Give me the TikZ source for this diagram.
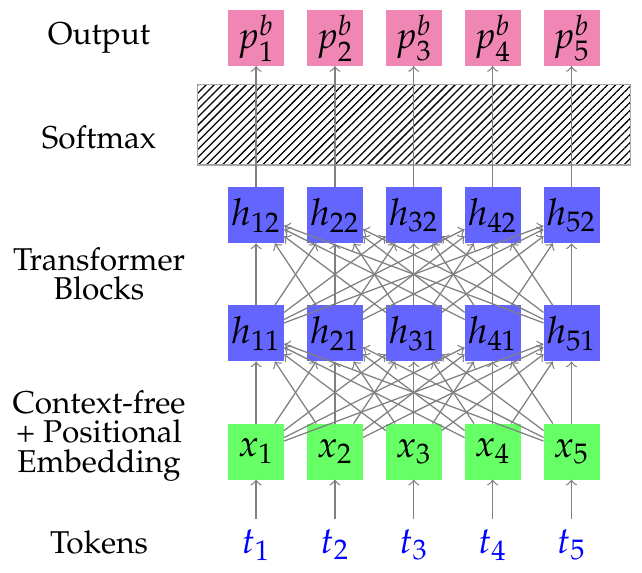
\documentclass[tikz,border=0pt]{standalone}
\usepackage[T1]{fontenc}
\usepackage{mathpazo}
\usepackage{color}
\definecolor{Pcol}{RGB}{240,134,180}
\definecolor{Hcol}{RGB}{100,100,255}
\definecolor{Xcol}{RGB}{102,255,102}
\definecolor{Tcol}{RGB}{0,0,255}
\usepackage{tikz}
\usetikzlibrary{positioning}
\usetikzlibrary{patterns.meta}
\tikzstyle{unit}=[rectangle, minimum size=17.75pt, inner sep=0pt, outer sep=0pt, font=\fontsize{11.8}{14}\selectfont]
\tikzstyle{P}=[unit, fill=Pcol]
\tikzstyle{H}=[unit, fill=Hcol]
\tikzstyle{X}=[unit, fill=Xcol]
\tikzstyle{T}=[unit, minimum size=16.5pt, text=Tcol]
\tikzstyle{softmax}=[rectangle, draw=gray!70, pattern={Lines[angle=45, distance=1.8pt, line width=0.4pt]}, outer sep=0pt, minimum width=137.2pt, minimum height=25.4pt]
\tikzstyle{layer}=[align=center, inner sep=0pt, font=\fontsize{10}{9.3}\selectfont]

\begin{document}
\begin{tikzpicture}
	\useasboundingbox (0,0) rectangle (203.55pt,181.36pt);
	% embeddings
	\node (X1) at (81.2pt,38.2pt) [X] {$x_1$};
	\node (X2) [right = 7.25pt of X1, X] {$x_2$};
	\node (X3) [right = 7.25pt of X2, X] {$x_3$};
	\node (X4) [right = 7.25pt of X3, X] {$x_4$};
	\node (X5) [right = 7.25pt of X4, X] {$x_5$};
	% tokens
	\node (T1) [below = 12.45pt of X1, T] {$t_1$};
	\node (T2) [below = 12.45pt of X2, T] {$t_2$};
	\node (T3) [below = 12.45pt of X3, T] {$t_3$};
	\node (T4) [below = 12.45pt of X4, T] {$t_4$};
	\node (T5) [below = 12.45pt of X5, T] {$t_5$};
	% transformer blocks
	\node (H11) [above = 19.7pt of X1, H] {$h_{11}$};
	\node (H21) [above = 19.7pt of X2, H] {$h_{21}$};
	\node (H31) [above = 19.7pt of X3, H] {$h_{31}$};
	\node (H41) [above = 19.7pt of X4, H] {$h_{41}$};
	\node (H51) [above = 19.7pt of X5, H] {$h_{51}$};
	\node (H12) [above = 19.7pt of H11, H] {$h_{12}$};
	\node (H22) [above = 19.7pt of H21, H] {$h_{22}$};
	\node (H32) [above = 19.7pt of H31, H] {$h_{32}$};
	\node (H42) [above = 19.7pt of H41, H] {$h_{42}$};
	\node (H52) [above = 19.7pt of H51, H] {$h_{52}$};
	% softmax and output
	\node (SM) [above = 7.1pt of H32, softmax] {};
	\node (P1) [above = 38.45pt of H12, P] {$p^b_1$};
	\node (P2) [above = 38.45pt of H22, P] {$p^b_2$};
	\node (P3) [above = 38.45pt of H32, P] {$p^b_3$};
	\node (P4) [above = 38.45pt of H42, P] {$p^b_4$};
	\node (P5) [above = 38.45pt of H52, P] {$p^b_5$};
	% row names
	\node (Lout) [layer, anchor=base] at (31.4pt,167.1pt) {Output};
	\node (Lsm) [layer, anchor=base] at (31.4pt,134.4pt) {Softmax};
	\node (Ltr) [layer] at (31.4pt,94.6pt) {Transformer\\Blocks};
	\node (Lemb) [layer] at (31.4pt,43.2pt) {Context-free\\+ Positional\\Embedding};
	\node (Ltok) [layer, anchor=base] at (31.4pt,6.0pt) {Tokens};
	\path[->, gray, line width=0.4pt]
		(T1) edge (X1) (T2) edge (X2) (T3) edge (X3) (T4) edge (X4) (T5) edge (X5);
	\path[->, gray, line width=0.4pt]
		(X1) edge (H11) (X1) edge (H21) (X1) edge (H31) (X1) edge (H41) (X1) edge (H51)
		(X2) edge (H11) (X2) edge (H21) (X2) edge (H31) (X2) edge (H41) (X2) edge (H51)
		(X3) edge (H11) (X3) edge (H21) (X3) edge (H31) (X3) edge (H41) (X3) edge (H51)
		(X4) edge (H11) (X4) edge (H21) (X4) edge (H31) (X4) edge (H41) (X4) edge (H51)
		(X5) edge (H11) (X5) edge (H21) (X5) edge (H31) (X5) edge (H41) (X5) edge (H51);
	\path[->, gray, line width=0.4pt]
		(H11) edge (H12) (H11) edge (H22) (H11) edge (H32) (H11) edge (H42) (H11) edge (H52)
		(H21) edge (H12) (H21) edge (H22) (H21) edge (H32) (H21) edge (H42) (H21) edge (H52)
		(H31) edge (H12) (H31) edge (H22) (H31) edge (H32) (H31) edge (H42) (H31) edge (H52)
		(H41) edge (H12) (H41) edge (H22) (H41) edge (H32) (H41) edge (H42) (H41) edge (H52)
		(H51) edge (H12) (H51) edge (H22) (H51) edge (H32) (H51) edge (H42) (H51) edge (H52);
	\path[->, gray, line width=0.4pt]
		(H12) edge (P1) (H22) edge (P2) (H32) edge (P3) (H42) edge (P4) (H52) edge (P5);
\end{tikzpicture}
\end{document}
